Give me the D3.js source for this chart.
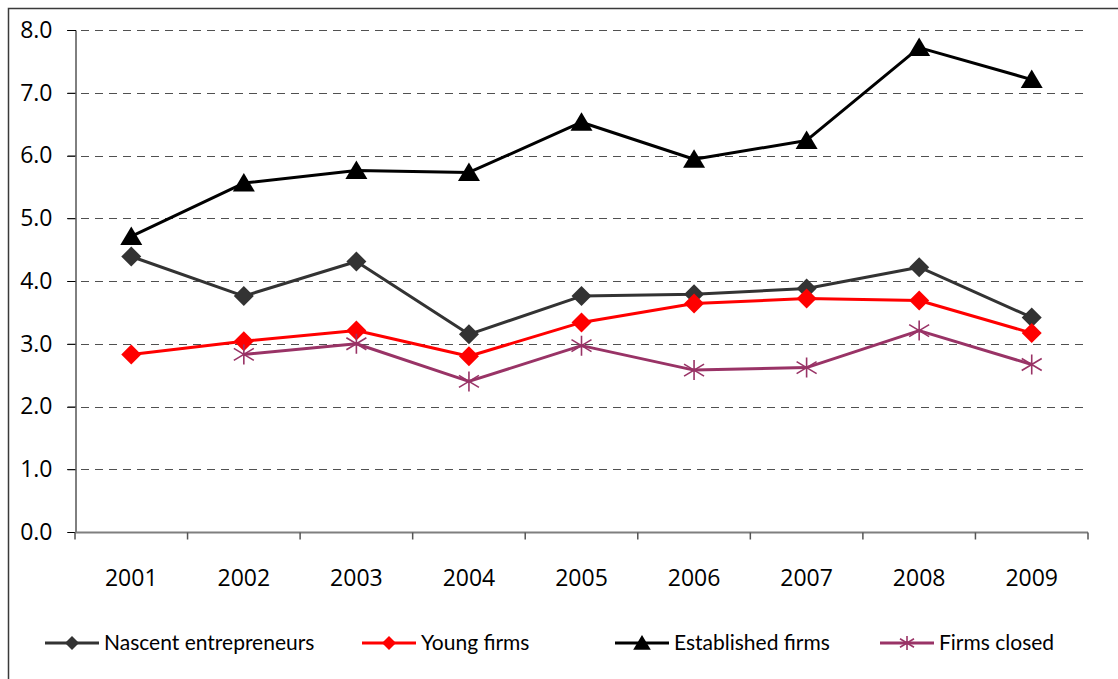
<!DOCTYPE html>
<html>
<head>
<meta charset="utf-8">
<script src="https://cdn.jsdelivr.net/npm/d3@7"></script>
<style>
  body { margin: 0; background: #fff; }
  text { font-family: "Open Sans", "Noto Sans", sans-serif; fill: #000; }
</style>
</head>
<body>
<div id="chart"></div>
<script>
const years = ['2001', '2002', '2003', '2004', '2005', '2006', '2007', '2008', '2009']
const yTicks = [0, 1, 2, 3, 4, 5, 6, 7, 8]
const nascent = [4.39, 3.76, 4.31, 3.15, 3.76, 3.79, 3.88, 4.22, 3.42]
const young = [2.83, 3.04, 3.21, 2.80, 3.34, 3.64, 3.72, 3.69, 3.17]
const established = [4.71, 5.56, 5.76, 5.73, 6.53, 5.94, 6.24, 7.72, 7.21]
const closed = [null, 2.83, 3.00, 2.40, 2.97, 2.58, 2.62, 3.21, 2.67]
const seriesNames = ['Nascent entrepreneurs', 'Young firms', 'Established firms', 'Firms closed']

let series = [
  {name: seriesNames[0], values: nascent, color: '#333333', marker: 'diamond'},
  {name: seriesNames[1], values: young, color: '#ff0000', marker: 'diamond'},
  {name: seriesNames[2], values: established, color: '#000000', marker: 'triangle'},
  {name: seriesNames[3], values: closed, color: '#993366', marker: 'star'}
]

const W = 1118, H = 679
const m = {left: 75, right: 30, top: 30, bottom: 147}

let svg = d3.select('#chart').append('svg')
  .attr('width', W)
  .attr('height', H)

// outer chart frame (only top/left visible in the crop)
svg.append('rect')
  .attr('x', 8.5).attr('y', 8.5)
  .attr('width', W + 20).attr('height', H + 20)
  .attr('fill', 'none')
  .attr('stroke', '#3a3a3a')
  .attr('stroke-width', 1.5)

let x = d3.scaleBand().domain(years).range([m.left, W - m.right]).padding(0)
let y = d3.scaleLinear().domain([0, 8]).range([H - m.bottom, m.top])

// dashed grid
svg.append('g')
  .selectAll('line')
  .data(yTicks.filter(d => d > 0))
  .enter()
  .append('line')
  .attr('x1', m.left - 8)
  .attr('x2', W - m.right)
  .attr('y1', d => Math.round(y(d)) + 0.5)
  .attr('y2', d => Math.round(y(d)) + 0.5)
  .attr('stroke', '#505050')
  .attr('stroke-width', 1)
  .attr('stroke-dasharray', '8,6')

// y axis
let yAxis = svg.append('g')
  .attr('transform', `translate(${m.left + 0.5},0)`)
  .call(d3.axisLeft(y).tickValues(yTicks).tickFormat(d3.format('.1f')).tickSize(8).tickPadding(15))
yAxis.select('.domain').attr('stroke', '#000')
yAxis.selectAll('.tick line').attr('stroke', '#000')
yAxis.selectAll('.tick text')
  .attr('font-size', 23)
  .style('font-family', '"Open Sans", sans-serif')
  .attr('fill', '#000')

// x axis with ticks between categories
let xAxisG = svg.append('g')
  .attr('transform', `translate(0,${Math.round(y(0)) + 0.5})`)
xAxisG.append('line')
  .attr('x1', m.left).attr('x2', W - m.right)
  .attr('stroke', '#7f7f7f').attr('stroke-width', 2)
xAxisG.selectAll('.tk')
  .data(years.concat(['end']))
  .enter()
  .append('line')
  .attr('class', 'tk')
  .attr('x1', d => d === 'end' ? W - m.right : x(d))
  .attr('x2', d => d === 'end' ? W - m.right : x(d))
  .attr('y1', 0).attr('y2', 7)
  .attr('stroke', '#555').attr('stroke-width', 1.5)
xAxisG.selectAll('.lbl')
  .data(years)
  .enter()
  .append('text')
  .attr('class', 'lbl')
  .attr('x', d => x(d) + x.bandwidth() / 2)
  .attr('y', 53)
  .attr('text-anchor', 'middle')
  .attr('font-size', 23)
  .text(d => d)

let cx = (d, i) => x(years[i]) + x.bandwidth() / 2

function markerPath (type, s) {
  if (type === 'diamond') return `M0,${-s}L${s},0L0,${s}L${-s},0Z`
  if (type === 'triangle') return `M0,${-s}L${s * 1.1},${s * 0.85}L${-s * 1.1},${s * 0.85}Z`
  // star: vertical stroke plus an X
  let d = s
  return `M0,${-s}L0,${s}M${-d},${-d * 0.6}L${d},${d * 0.6}M${-d},${d * 0.6}L${d},${-d * 0.6}`
}

function drawMarker (g, type, color, s) {
  let p = g.append('path').attr('d', markerPath(type, s))
  if (type === 'star') {
    p.attr('fill', 'none').attr('stroke', color).attr('stroke-width', 1.6)
  } else {
    p.attr('fill', color).attr('stroke', 'none')
  }
}

let line = d3.line()
  .defined(d => d != null)
  .x(cx)
  .y(d => y(d))

series.forEach(s => {
  let pts = s.values.map((v, i) => ({v, i})).filter(d => d.v != null)
  svg.append('path')
    .datum(s.values)
    .attr('d', line)
    .attr('fill', 'none')
    .attr('stroke', s.color)
    .attr('stroke-width', 3)
    .attr('stroke-linejoin', 'round')
  pts.forEach(d => {
    let g = svg.append('g').attr('transform', `translate(${cx(d.v, d.i)},${y(d.v)})`)
    drawMarker(g, s.marker, s.color, 10)
  })
})

// legend
let legendX = [45, 362, 615, 880]
let legend = svg.selectAll('.legend')
  .data(series)
  .enter()
  .append('g')
  .attr('class', 'legend')
  .attr('transform', (d, i) => `translate(${legendX[i]},643)`)
legend.append('line')
  .attr('x1', 0).attr('x2', 54)
  .attr('stroke', d => d.color)
  .attr('stroke-width', 3)
legend.each(function (d) {
  let g = d3.select(this).append('g').attr('transform', 'translate(27,0)')
  drawMarker(g, d.marker, d.color, d.marker === 'triangle' ? 8 : 7)
})
legend.append('text')
  .attr('x', 59)
  .attr('dy', '0.35em')
  .attr('font-size', 21)
  .style('font-family', 'Lato, sans-serif')
  .text(d => d.name)
</script>
</body>
</html>
